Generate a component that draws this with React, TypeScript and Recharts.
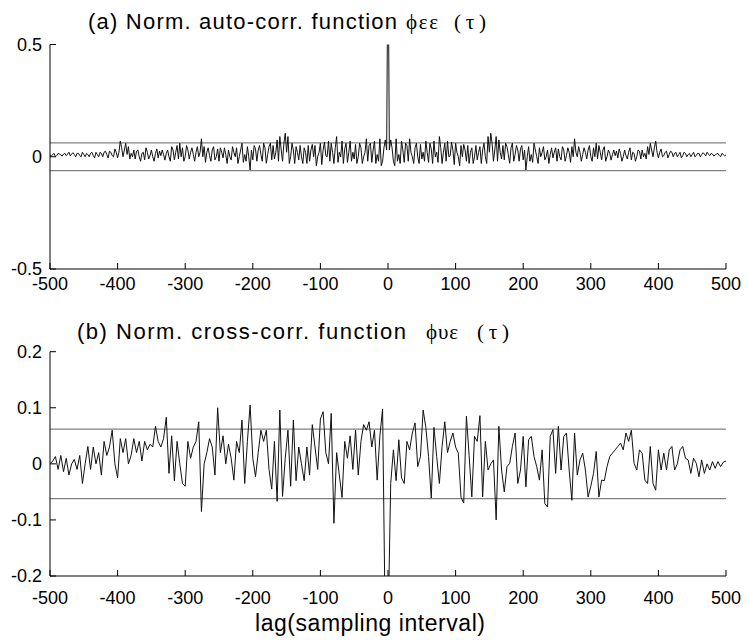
import { Line, LineChart, ReferenceLine, XAxis, YAxis } from 'recharts'

// lag axis
const autoStep = 2
const crossStep = 4
const lagTicks = [-500, -400, -300, -200, -100, 0, 100, 200, 300, 400, 500]
const autoTicks = [-0.5, 0, 0.5]
const crossTicks = [-0.2, -0.1, 0, 0.1, 0.2]
const confidence = 0.062

// (a) auto-correlation, lags 0..500 step 2 (the function is symmetric in the lag)
const autoCorrPositive = [
  1, 0.03, 0.075, 0.04, -0.02, -0.04, 0.08, -0.02, 0.01, -0.03, 0.07, 0.03, -0.025, 0.06, 0.05, -0.02, 0.08, 0.02, 0.0, -0.03,
  0.04, 0.06, 0.0, -0.03, 0.055, -0.01, 0.02, -0.02, 0.07, 0.02, -0.025, 0.06, 0.035, -0.03, 0.07, 0.0, 0.02, -0.025, 0.09, 0.04,
  -0.03, 0.02, 0.06, -0.02, 0.07, 0.0, 0.005, 0.065, 0.03, -0.035, 0.06, 0.02, 0.0, -0.04, 0.05, 0.0, 0.055, 0.03, -0.02, 0.05,
  -0.03, 0.02, 0.04, -0.03, 0.0, 0.05, -0.014, 0.02, 0.045, -0.03, 0.03, 0.06, 0.0, -0.03, 0.09, 0.02, 0.105, 0.06, -0.02, 0.03,
  0.09, -0.02, 0.075, 0.02, -0.01, 0.05, -0.014, 0.06, 0.045, 0.01, -0.029, 0.04, 0.06, -0.02, 0.01, 0.05, 0.03, -0.02, 0.035, 0.05,
  -0.014, 0.03, -0.059, 0.0, 0.045, -0.02, 0.01, -0.025, 0.06, 0.03, 0.0, -0.03, 0.04, 0.0, 0.02, 0.045, -0.014, 0.0, 0.03, -0.03,
  0.01, 0.04, -0.005, 0.02, 0.04, -0.02, 0.035, 0.0, -0.014, 0.045, 0.03, -0.02, 0.005, 0.04, 0.02, -0.025, 0.045, 0.0, 0.08, 0.02,
  0.0, 0.045, 0.02, -0.02, 0.01, 0.04, 0.02, -0.01, 0.03, 0.05, 0.0, -0.02, 0.04, 0.0, 0.06, -0.01, 0.05, 0.02, -0.014, 0.03,
  0.045, -0.02, 0.0, 0.03, 0.015, -0.015, 0.01, 0.03, 0.005, 0.025, -0.005, 0.035, 0.015, -0.02, 0.0, 0.03, 0.005, -0.01, 0.02, 0.04,
  -0.014, 0.02, 0.015, -0.02, 0.0, 0.03, 0.025, -0.01, 0.03, 0.0, 0.015, -0.01, 0.045, 0.01, 0.06, 0.03, 0.0, 0.04, 0.07, 0.02,
  -0.005, 0.02, 0.035, 0.0, 0.005, 0.02, 0.025, -0.005, 0.01, 0.025, 0.02, 0.0, 0.015, 0.02, 0.0, 0.01, 0.02, -0.005, 0.005, 0.02,
  0.015, 0.0, 0.01, 0.015, 0.0, 0.01, 0.02, 0.0, 0.005, 0.015, 0.015, 0.0, 0.01, 0.018, 0.012, 0.004, 0.02, 0.012, 0.005, 0.015,
  0.012, 0.003, 0.008, 0.012, 0.015, 0.006, 0.0, 0.015, 0.01, 0.004, 0.008,
]

// (b) cross-correlation, lags -500..500 step 4
const crossCorr = [
  0.0, 0.005, 0.013, -0.01, 0.015, -0.014, 0.01, -0.02, 0.0, 0.008, -0.01, 0.015, -0.035, 0.0, 0.031, -0.01, 0.03, 0.0, 0.02, -0.02, 0.04, 0.015, 0.03, 0.06, 0.0,
  -0.025, 0.045, 0.02, 0.045, 0.0, 0.015, 0.045, 0.02, 0.04, 0.005, 0.04, 0.025, 0.035, 0.03, 0.067, 0.04, 0.03, 0.045, 0.083, -0.017, 0.05, -0.03, 0.04, 0.0, -0.035,
  -0.04, 0.04, 0.01, 0.03, 0.04, 0.075, -0.085, 0.0, 0.02, 0.045, 0.03, -0.02, 0.1, 0.02, 0.05, 0.0, 0.035, 0.01, -0.029, 0.04, 0.02, 0.078, -0.035, 0.04, 0.105,
  0.01, -0.023, 0.02, 0.06, 0.04, 0.06, -0.01, -0.045, 0.04, -0.067, 0.096, -0.058, 0.01, 0.06, -0.04, 0.078, -0.03, 0.03, 0.0, -0.03, 0.03, -0.02, 0.07, 0.03, -0.01,
  0.08, 0.093, 0.02, 0.0, 0.09, -0.106, 0.02, -0.02, -0.06, 0.04, 0.01, 0.05, -0.01, 0.06, -0.02, 0.04, 0.07, 0.06, 0.075, 0.03, 0.06, -0.029, 0.05, 0.098, -0.3,
  -0.3, -0.035, 0.025, -0.03, 0.043, -0.025, -0.035, 0.04, 0.025, 0.055, 0.073, -0.005, 0.013, 0.096, 0.065, 0.013, -0.061, 0.065, 0.013, -0.035, 0.031, 0.075, 0.02, 0.04, 0.055,
  0.03, 0.019, -0.06, -0.07, 0.085, 0.015, -0.059, 0.049, 0.04, 0.086, -0.059, 0.04, -0.011, 0.0, 0.007, -0.1, 0.067, -0.011, -0.05, -0.005, 0.001, 0.031, 0.055, -0.035, -0.011,
  0.049, -0.041, 0.043, 0.049, 0.013, -0.005, -0.029, 0.025, -0.071, -0.077, 0.049, 0.061, -0.017, 0.067, -0.011, 0.049, 0.055, -0.011, -0.065, 0.055, -0.02, 0.007, 0.019, -0.011, -0.059,
  -0.04, -0.017, 0.022, -0.059, -0.029, -0.03, -0.005, 0.013, 0.019, 0.025, 0.031, 0.037, 0.025, 0.055, 0.04, 0.06, 0.001, -0.011, 0.025, 0.019, -0.029, -0.035, 0.031, -0.035, -0.047,
  0.025, -0.011, 0.019, -0.011, 0.025, 0.031, -0.011, 0.0, 0.025, 0.031, 0.01, 0.007, -0.017, 0.01, 0.001, -0.023, 0.007, -0.017, 0.0, -0.011, 0.004, -0.008, 0.004, -0.005, 0.003, 0.005,
]

const autoLags = Array.from({ length: 2 * (autoCorrPositive.length - 1) + 1 }, (_, i) => -500 + i * autoStep)
const autoData = autoLags.map((lag) => ({ lag, v: autoCorrPositive[Math.abs(lag) / autoStep] }))
const crossData = crossCorr.map((v, i) => ({ lag: -500 + i * crossStep, v }))

const sans = '"Liberation Sans", Arial, sans-serif'
const serif = '"Liberation Serif", "Times New Roman", serif'
const tickStyle = { fill: '#000', fontSize: 18, fontFamily: sans }

type PanelProps = {
  data: { lag: number; v: number }[]
  yTicks: number[]
  top: number
  height: number
  marginTop: number
  xAxisHeight: number
  labelGap: number
}

function Panel({ data, yTicks, top, height, marginTop, xAxisHeight, labelGap }: PanelProps) {
  const yDomain: [number, number] = [yTicks[0], yTicks[yTicks.length - 1]]
  return (
    <div style={{ position: 'absolute', left: 0, top, width: 748, height }}>
      <LineChart width={748} height={height} data={data} margin={{ top: marginTop, right: 22, bottom: 0, left: 0 }}>
        <XAxis
          dataKey="lag"
          type="number"
          domain={[-500, 500]}
          ticks={lagTicks}
          interval={0}
          allowDataOverflow
          height={xAxisHeight}
          tickSize={-6}
          tickMargin={6 + labelGap}
          axisLine={{ stroke: '#000' }}
          tickLine={{ stroke: '#000' }}
          tick={tickStyle}
        />
        <XAxis
          xAxisId="top"
          orientation="top"
          type="number"
          domain={[-500, 500]}
          ticks={lagTicks}
          interval={0}
          height={0}
          tickSize={-6}
          tick={false}
          axisLine={{ stroke: '#000' }}
          tickLine={{ stroke: '#000' }}
        />
        <YAxis
          type="number"
          domain={yDomain}
          ticks={yTicks}
          interval={0}
          allowDataOverflow
          width={50}
          tickSize={-6}
          tickMargin={14}
          axisLine={{ stroke: '#000' }}
          tickLine={{ stroke: '#000' }}
          tick={tickStyle}
          tickFormatter={(t: number) => String(t)}
        />
        <YAxis
          yAxisId="right"
          orientation="right"
          type="number"
          domain={yDomain}
          ticks={yTicks}
          interval={0}
          allowDataOverflow
          width={0}
          tickSize={-6}
          tick={false}
          axisLine={{ stroke: '#000' }}
          tickLine={{ stroke: '#000' }}
        />
        <ReferenceLine y={confidence} stroke="#808080" strokeWidth={1.2} />
        <ReferenceLine y={-confidence} stroke="#808080" strokeWidth={1.2} />
        <Line dataKey="v" type="linear" stroke="#111" strokeWidth={1} dot={false} isAnimationActive={false} />
      </LineChart>
    </div>
  )
}

export default function App() {
  return (
    <div style={{ position: 'absolute', left: 0, top: 0, width: 748, height: 640, background: '#fff' }}>
      <Panel data={autoData} yTicks={autoTicks} top={0} height={300} marginTop={44.5} xAxisHeight={31} labelGap={8} />
      <Panel data={crossData} yTicks={crossTicks} top={300} height={340} marginTop={51.7} xAxisHeight={64} labelGap={15} />
      <svg width={748} height={640} style={{ position: 'absolute', left: 0, top: 0, pointerEvents: 'none' }}>
        <text x={88} y={29} fontFamily={sans} fontSize={22} textLength={309} lengthAdjust="spacing">(a) Norm. auto-corr. function</text>
        <text x={406} y={29} fontFamily={serif} fontSize={21} textLength={32} lengthAdjust="spacing">ϕεε</text>
        <text x={454} y={29} fontFamily={serif} fontSize={21} textLength={32} lengthAdjust="spacing">(τ)</text>
        <text x={77} y={339} fontFamily={sans} fontSize={22} textLength={329} lengthAdjust="spacing">(b) Norm. cross-corr. function</text>
        <text x={426} y={339} fontFamily={serif} fontSize={21} textLength={32} lengthAdjust="spacing">ϕυε</text>
        <text x={477} y={339} fontFamily={serif} fontSize={21} textLength={32} lengthAdjust="spacing">(τ)</text>
        <text x={370} y={631} fontFamily={sans} fontSize={23} textAnchor="middle" textLength={230} lengthAdjust="spacing">lag(sampling interval)</text>
      </svg>
    </div>
  )
}
